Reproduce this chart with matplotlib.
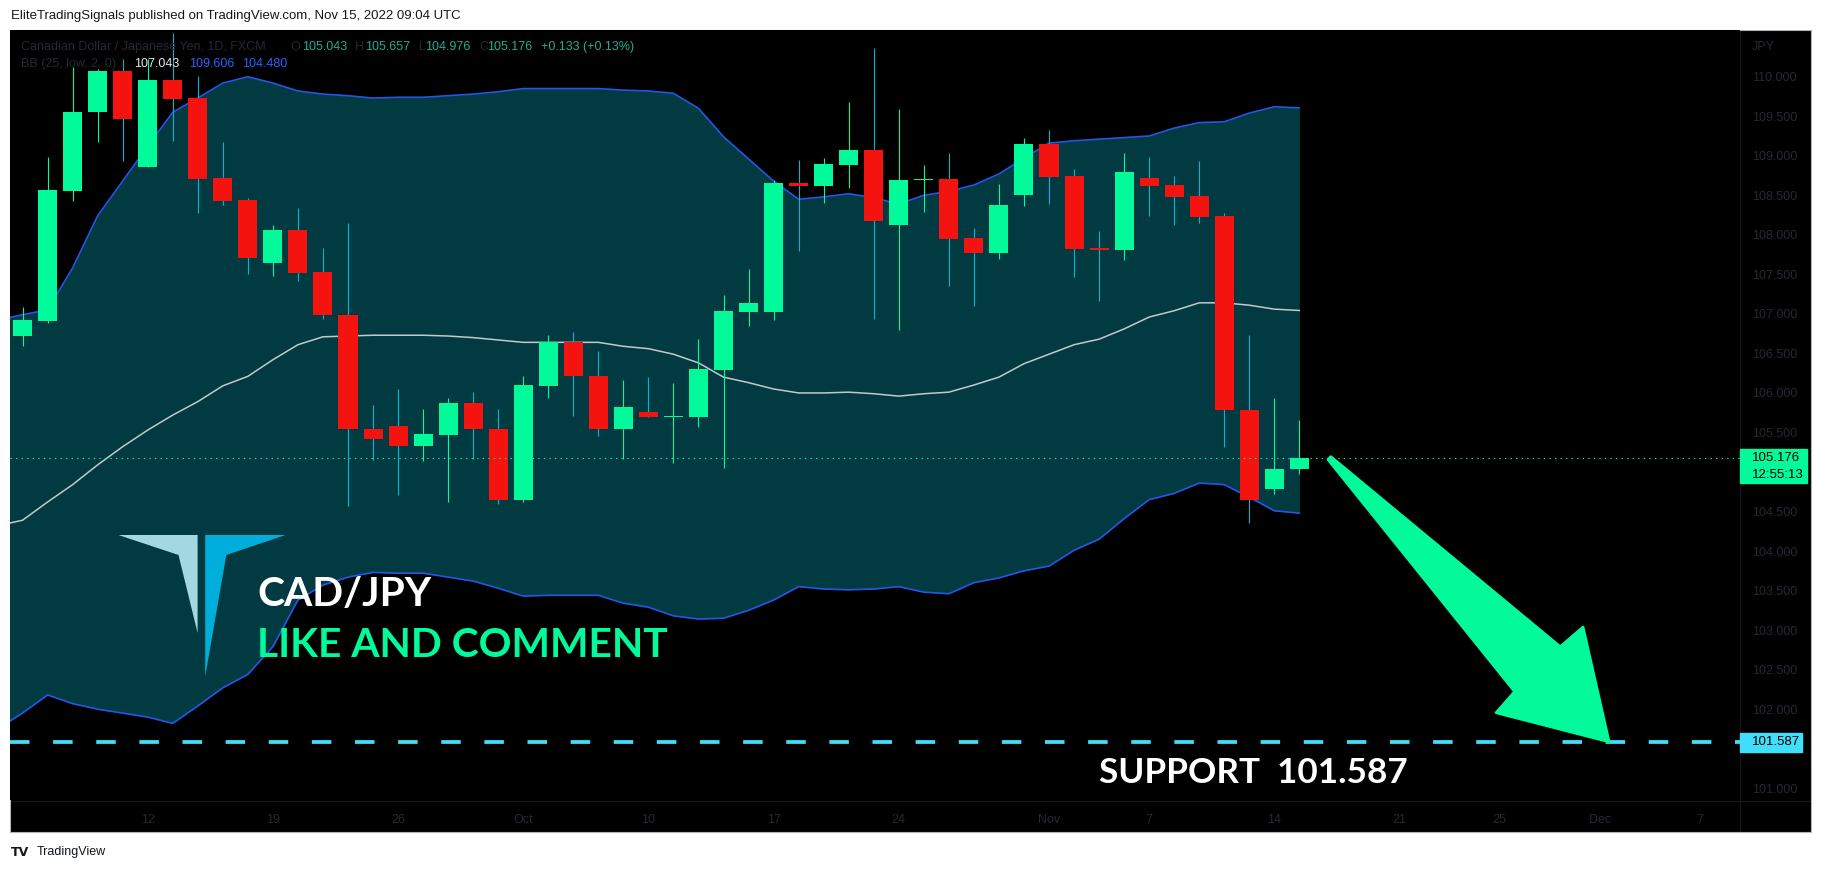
import matplotlib
matplotlib.use('Agg')
import matplotlib.pyplot as plt
import matplotlib.transforms as mtransforms
from matplotlib.patches import Polygon, Rectangle
import numpy as np

W, H = 1823, 872

# daily candles, Sep 5 .. Nov 15 2022 (trading days)
opens = [106.72, 106.91, 108.56, 109.55, 110.07, 108.86, 109.96, 109.73, 108.72, 108.44,
         107.64, 108.06, 107.53, 106.99, 105.54, 105.58, 105.33, 105.47, 105.87, 105.54,
         104.64, 106.09, 106.64, 106.21, 105.55, 105.76, 105.69, 105.69, 106.29, 107.03,
         107.02, 108.66, 108.62, 108.88, 109.07, 108.12, 108.69, 108.71, 107.96, 107.77,
         108.50, 109.15, 108.74, 107.83, 107.81, 108.72, 108.63, 108.49, 108.24, 105.78,
         104.79, 105.043]
highs = [107.09, 108.98, 110.12, 110.10, 110.23, 110.23, 110.55, 110.01, 109.17, 108.47,
         108.12, 108.34, 107.83, 108.15, 105.85, 106.05, 105.80, 105.94, 106.01, 105.80,
         106.22, 106.73, 106.77, 106.53, 106.16, 106.20, 106.12, 106.68, 107.24, 107.57,
         108.69, 108.95, 108.97, 109.68, 110.36, 109.59, 108.88, 109.04, 108.09, 108.64,
         109.23, 109.32, 108.83, 108.05, 109.04, 108.99, 108.74, 108.94, 108.27, 106.73,
         105.94, 105.657]
lows = [106.60, 106.89, 108.43, 109.18, 108.93, 108.86, 109.19, 108.27, 108.38, 107.50,
        107.48, 107.42, 106.94, 104.57, 105.15, 104.71, 105.14, 104.62, 105.16, 104.59,
        104.62, 105.93, 105.71, 105.46, 105.17, 105.69, 105.12, 105.57, 105.05, 106.85,
        106.92, 107.80, 108.40, 108.59, 106.94, 106.79, 108.29, 107.35, 107.10, 107.69,
        108.37, 108.39, 107.47, 107.16, 107.68, 108.24, 108.13, 108.15, 105.32, 104.35,
        104.72, 104.976]
closes = [106.92, 108.57, 109.55, 110.07, 109.47, 109.96, 109.72, 108.71, 108.43, 107.71,
          108.06, 107.52, 106.98, 105.54, 105.42, 105.33, 105.48, 105.87, 105.54, 104.64,
          106.10, 106.64, 106.21, 105.55, 105.82, 105.69, 105.71, 106.30, 107.04, 107.14,
          108.66, 108.62, 108.90, 109.07, 108.17, 108.69, 108.71, 107.95, 107.77, 108.38,
          109.15, 108.73, 107.82, 107.81, 108.80, 108.62, 108.48, 108.23, 105.78, 104.65,
          105.043, 105.176]

# Bollinger bands BB(25, low, 2, 0), Sep 2 .. Nov 15
bb_upper = [106.92, 106.99, 107.05, 107.58, 108.24, 108.68, 109.12, 109.55, 109.73, 109.92,
            110.00, 109.92, 109.82, 109.78, 109.76, 109.73, 109.74, 109.74, 109.76, 109.78,
            109.81, 109.85, 109.85, 109.85, 109.85, 109.83, 109.82, 109.79, 109.60, 109.24,
            108.96, 108.68, 108.45, 108.48, 108.52, 108.47, 108.39, 108.50, 108.55, 108.63,
            108.77, 108.97, 109.16, 109.19, 109.21, 109.23, 109.25, 109.35, 109.42, 109.43,
            109.54, 109.62, 109.606]
bb_mid = [104.32, 104.39, 104.62, 104.84, 105.09, 105.32, 105.53, 105.72, 105.89, 106.09,
          106.21, 106.42, 106.61, 106.71, 106.72, 106.73, 106.73, 106.73, 106.72, 106.70,
          106.67, 106.64, 106.64, 106.64, 106.64, 106.59, 106.56, 106.49, 106.38, 106.20,
          106.13, 106.05, 106.00, 106.00, 106.01, 105.99, 105.96, 105.99, 106.01, 106.10,
          106.20, 106.37, 106.49, 106.61, 106.68, 106.81, 106.96, 107.04, 107.14, 107.14,
          107.11, 107.06, 107.043]
bb_lower = [101.75, 101.95, 102.18, 102.07, 102.00, 101.95, 101.90, 101.82, 102.04, 102.27,
            102.44, 102.79, 103.38, 103.57, 103.67, 103.73, 103.72, 103.72, 103.67, 103.62,
            103.53, 103.43, 103.44, 103.44, 103.44, 103.34, 103.29, 103.18, 103.14, 103.15,
            103.25, 103.38, 103.55, 103.52, 103.51, 103.52, 103.55, 103.48, 103.46, 103.60,
            103.66, 103.75, 103.81, 104.01, 104.15, 104.41, 104.65, 104.73, 104.86, 104.84,
            104.68, 104.51, 104.480]

tick_pos = [5, 10, 15, 20, 25, 30, 35, 41, 45, 50, 55, 59, 63, 67]
tick_labels = ['12', '19', '26', 'Oct', '10', '17', '24', 'Nov', '7', '14', '21', '25', 'Dec', '7']
price_ticks = [101.0, 102.0, 102.5, 103.0, 103.5, 104.0, 104.5, 105.5,
               106.0, 106.5, 107.0, 107.5, 108.0, 108.5, 109.0, 109.5, 110.0]

support = 101.587
arrow_from = 52.2      # bar index where the arrow starts
arrow_to = 63.37       # bar index where the arrow hits support

GREEN = '#02fa9a'
RED = '#f5130f'
WICK_DN = '#00b8d4'
BAND_FILL = '#013a41'
BAND_LINE = '#2457e6'
MID_LINE = '#c4c8cc'
CYAN = '#3fdffa'
DARK_TXT = '#262932'
TEAL = '#22ab94'
BLUE = '#2962ff'
NARROW = ['Liberation Sans', 'DejaVu Sans']


def fbox(x0, y0, x1, y1):
    return [x0 / W, 1 - y1 / H, (x1 - x0) / W, (y1 - y0) / H]


fig = plt.figure(figsize=(W / 100, H / 100), dpi=100, facecolor='white')

# black chart frame with price/time axis strips
bg = fig.add_axes(fbox(10, 30, 1811, 832))
bg.set_facecolor('black')
bg.set_xticks([])
bg.set_yticks([])
for s in bg.spines.values():
    s.set_color('#b2b5be')
    s.set_linewidth(0.8)
bg.axhline((832 - 801) / 802, color='#17181d', lw=0.8)
bg.axvline((1740 - 10) / 1801, color='#17181d', lw=0.8)

ax = fig.add_axes(fbox(10, 30, 1740, 800))
ax.set_facecolor('black')
ax.set_xlim(-0.5, 68.6)
ax.set_ylim(100.851, 110.591)
for s in ax.spines.values():
    s.set_visible(False)

# Bollinger bands
bx = np.arange(-1, len(bb_mid) - 1)
ax.fill_between(bx, bb_lower, bb_upper, color=BAND_FILL, lw=0, zorder=1)
ax.plot(bx, bb_upper, color=BAND_LINE, lw=1.2, zorder=2)
ax.plot(bx, bb_lower, color=BAND_LINE, lw=1.2, zorder=2)
ax.plot(bx, bb_mid, color=MID_LINE, lw=1.1, zorder=2)

# candles
o = np.array(opens)
c = np.array(closes)
x = np.arange(len(o))
up = c >= o
ax.vlines(x, lows, highs, colors=np.where(up, GREEN, WICK_DN), lw=0.8, zorder=3)
ax.bar(x, np.maximum(np.abs(c - o), 0.02), bottom=np.minimum(o, c), width=0.76,
       color=np.where(up, GREEN, RED), lw=0, zorder=4)

last = closes[-1]
ax.axhline(last, color=GREEN, lw=0.8, ls=(0, (1.2, 3.8)), zorder=5)
ax.axhline(support, color=CYAN, lw=2.7, ls=(0, (5.2, 6.3)), zorder=6)

# axes ticks (labels hidden under the price boxes are left out)
ax.yaxis.tick_right()
ax.set_yticks(price_ticks)
ax.set_yticklabels(['%.3f' % v for v in price_ticks], family=NARROW, fontsize=9)
ax.tick_params(axis='y', length=0, pad=9, labelcolor=DARK_TXT)
ax.set_xticks(tick_pos)
ax.set_xticklabels(tick_labels, family=NARROW, fontsize=9)
ax.tick_params(axis='x', length=0, pad=10, labelcolor=DARK_TXT)

# price labels on the right axis
ytr = mtransforms.blended_transform_factory(ax.transAxes, ax.transData)
ax.add_patch(Rectangle((1.0, last - 0.315), 67 / 1730, 0.43, transform=ytr,
                       color=GREEN, clip_on=False, zorder=10))
ax.text(1 + 12 / 1730, last, '%.3f' % last, transform=ytr, va='center', ha='left',
        fontsize=9.5, family=NARROW, color='black', clip_on=False, zorder=11)
ax.text(1 + 12 / 1730, last - 0.21, '12:55:13', transform=ytr, va='center', ha='left',
        fontsize=9.5, family=NARROW, color='black', clip_on=False, zorder=11)
ax.add_patch(Rectangle((1.0, support - 0.126), 62 / 1730, 0.239, transform=ytr,
                       color=CYAN, clip_on=False, zorder=10))
ax.text(1 + 12 / 1730, support, '%.3f' % support, transform=ytr, va='center', ha='left',
        fontsize=9.5, family=NARROW, color='black', clip_on=False, zorder=11)
fig.text(1752 / W, 1 - 47 / H, 'JPY', fontsize=9, family=NARROW, color=DARK_TXT, va='center')

# big green arrow from last bar down to the support line
T = ax.transData.transform((arrow_from, last))
P = ax.transData.transform((arrow_to, support))
d = P - T
L = np.hypot(*d)
u = d / L
n = np.array([-u[1], u[0]])
shape = [(0, 2), (L - 102, 32), (L - 100, 62), (L, 0), (L - 100, -60), (L - 102, -32), (0, -2)]
pts = np.array([T + a * u + b * n for a, b in shape])
ax.add_patch(Polygon(ax.transData.inverted().transform(pts), closed=True, facecolor=GREEN,
                     edgecolor=GREEN, lw=2, joinstyle='round', clip_on=False, zorder=7))

# legend lines at top left of the pane
row1 = [('Canadian Dollar / Japanese Yen, 1D, FXCM', 20.6, DARK_TXT),
        ('O', 290.6, DARK_TXT), ('%.3f' % opens[-1], 302.5, TEAL),
        ('H', 355, DARK_TXT), ('%.3f' % highs[-1], 364.6, TEAL),
        ('L', 419, DARK_TXT), ('%.3f' % lows[-1], 425, TEAL),
        ('C', 479.6, DARK_TXT), ('%.3f' % last, 487.5, TEAL),
        ('%+.3f (%+.2f%%)' % (last - closes[-2], (last - closes[-2]) / closes[-2] * 100), 541, TEAL)]
row2 = [('BB (25, low, 2, 0)', 20.6, DARK_TXT), ('%.3f' % bb_mid[-1], 134.4, '#e6e6e6'),
        ('%.3f' % bb_upper[-1], 189, BLUE), ('%.3f' % bb_lower[-1], 242.4, BLUE)]
for row, yy in ((row1, 46.7), (row2, 64.3)):
    for txt, xx, col in row:
        fig.text(xx / W, 1 - yy / H, txt, fontsize=9, family=NARROW, color=col, va='center')

# logo
fig.add_artist(Polygon([(118.4 / W, 1 - 535 / H), (197.6 / W, 1 - 535 / H),
                        (197.6 / W, 1 - 633 / H), (178.5 / W, 1 - 555 / H)],
                       transform=fig.transFigure, color='#a3d8e2', lw=0))
fig.add_artist(Polygon([(205.2 / W, 1 - 535 / H), (285.6 / W, 1 - 535 / H),
                        (226.3 / W, 1 - 555 / H), (205.2 / W, 1 - 676.7 / H)],
                       transform=fig.transFigure, color='#00aedb', lw=0))

fig.text(257 / W, 1 - 606 / H, 'CAD/JPY', fontsize=29.3, family='Lato', weight='bold',
         color='white', va='baseline')
fig.text(257 / W, 1 - 657 / H, 'LIKE AND COMMENT', fontsize=29.3, family='Lato', weight='bold',
         color=GREEN, va='baseline')
fig.text(1099 / W, 1 - 783 / H, 'SUPPORT  %.3f' % support, fontsize=25.3, family='Lato',
         weight='bold', color='white', va='baseline')

# page header / footer
fig.text(11 / W, 1 - 16 / H, 'EliteTradingSignals published on TradingView.com, Nov 15, 2022 09:04 UTC',
         fontsize=9.5, family=NARROW, color='#131722', va='center')
fig.text(11 / W, 1 - 852 / H, 'TV', fontsize=9, family='DejaVu Sans', weight='heavy',
         color='#131722', va='center')
fig.text(37 / W, 1 - 852 / H, 'TradingView', fontsize=9, family=NARROW, color='#131722', va='center')

fig.savefig('out.png', dpi=100, facecolor='white')
